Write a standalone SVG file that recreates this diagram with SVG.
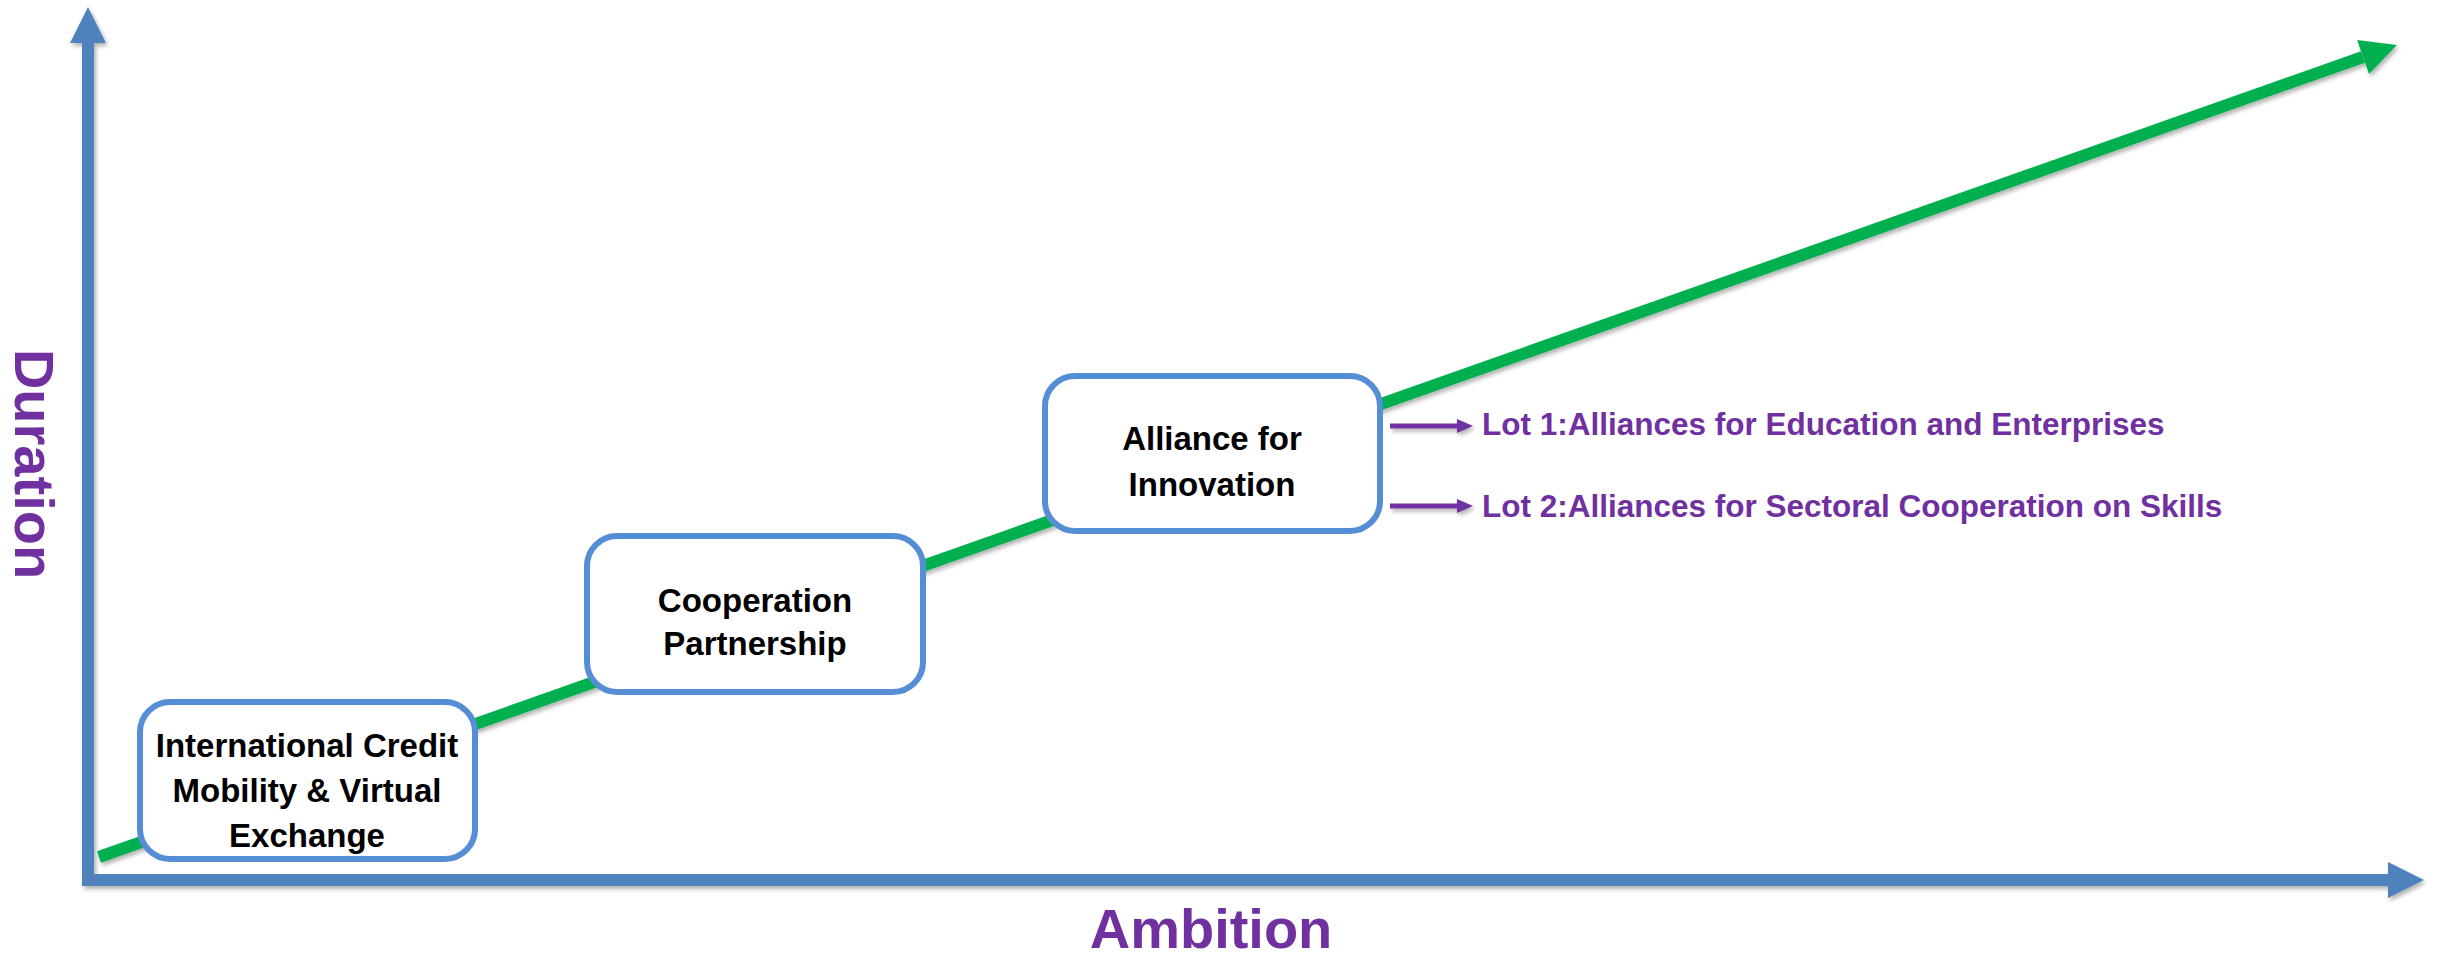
<svg xmlns="http://www.w3.org/2000/svg" width="2441" height="956" viewBox="0 0 2441 956">
<style>
.axis{stroke:#4F81BD;stroke-width:12;fill:none}
.trend{stroke:#00B050;stroke-width:12;fill:none}
.lot{stroke:#7030A0;stroke-width:5;fill:none}
.box{fill:#FFFFFF;stroke:#558ED5;stroke-width:6}
.nt{font-family:"Liberation Sans",Arial,sans-serif;font-weight:bold;font-size:33px;fill:#000000;text-anchor:middle}
.pt{font-family:"Liberation Sans",Arial,sans-serif;font-weight:bold;font-size:31.5px;fill:#7030A0}
.lbl{font-family:"Liberation Sans",Arial,sans-serif;font-weight:bold;fill:#7030A0;text-anchor:middle}
</style>
<defs>
<filter id="sh" filterUnits="userSpaceOnUse" x="0" y="0" width="2441" height="956">
<feDropShadow dx="2" dy="3" stdDeviation="2" flood-color="#000" flood-opacity="0.3"/>
</filter>
<marker id="blueHead" markerUnits="userSpaceOnUse" viewBox="0 0 36 36" markerWidth="36" markerHeight="36" refX="0" refY="18" orient="auto">
<path d="M0,0 L36,18 L0,36 Z" fill="#4F81BD"/>
</marker>
<marker id="greenHead" markerUnits="userSpaceOnUse" viewBox="0 0 36 36" markerWidth="36" markerHeight="36" refX="0" refY="18" orient="auto">
<path d="M0,0 L36,18 L0,36 Z" fill="#00B050"/>
</marker>
<marker id="purpleHead" markerUnits="userSpaceOnUse" viewBox="0 0 16 14" markerWidth="16" markerHeight="14" refX="0" refY="7" orient="auto">
<path d="M0,0 L16,7 L0,14 Z" fill="#7030A0"/>
</marker>
</defs>
<rect x="0" y="0" width="2441" height="956" fill="#FFFFFF"/>
<g id="connectors">
<g filter="url(#sh)">
<line id="y-axis" class="axis" x1="88" y1="886" x2="88" y2="43" marker-end="url(#blueHead)"/>
<line id="x-axis" class="axis" x1="82" y1="880" x2="2388" y2="880" marker-end="url(#blueHead)"/>
<line id="trend" class="trend" x1="99" y1="857" x2="2363" y2="57" marker-end="url(#greenHead)"/>
</g>
</g>
<g id="node-icm">
<rect class="box" x="140" y="702" width="335" height="157" rx="30" ry="30"/>
<text class="nt" x="307" y="757">International Credit</text>
<text class="nt" x="307" y="802">Mobility &amp; Virtual</text>
<text class="nt" x="307" y="847">Exchange</text>
</g>
<g id="node-cp">
<rect class="box" x="587" y="536" width="336" height="156" rx="30" ry="30"/>
<text class="nt" x="755" y="612">Cooperation</text>
<text class="nt" x="755" y="655">Partnership</text>
</g>
<g id="node-afi">
<rect class="box" x="1045" y="376" width="335" height="155" rx="30" ry="30"/>
<text class="nt" x="1212" y="450">Alliance for</text>
<text class="nt" x="1212" y="496">Innovation</text>
</g>
<g id="lot-connectors" filter="url(#sh)">
<line class="lot" x1="1390" y1="426" x2="1457" y2="426" marker-end="url(#purpleHead)"/>
<line class="lot" x1="1390" y1="506" x2="1457" y2="506" marker-end="url(#purpleHead)"/>
</g>
<g id="node-lot1">
<text class="pt" x="1482" y="435">Lot 1:Alliances for Education and Enterprises</text>
</g>
<g id="node-lot2">
<text class="pt" x="1482" y="517">Lot 2:Alliances for Sectoral Cooperation on Skills</text>
</g>
<g id="label-duration">
<text class="lbl" font-size="56" transform="translate(15,464) rotate(90)" x="0" y="0">Duration</text>
</g>
<g id="label-ambition">
<text class="lbl" font-size="56" x="1211" y="948">Ambition</text>
</g>
</svg>
